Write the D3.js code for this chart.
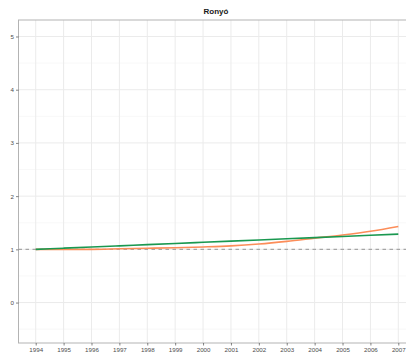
<!DOCTYPE html>
<html><head><meta charset="utf-8">
<script src="https://cdn.jsdelivr.net/npm/d3@7"></script>
<style>body{margin:0;background:#fff;overflow:hidden}svg{display:block}</style>
</head><body>
<script>
const title = "Ronyó";
const years = [1994,1995,1996,1997,1998,1999,2000,2001,2002,2003,2004,2005,2006,2007];
const seriesOrange = [1.0,1.0,1.0,1.01,1.02,1.03,1.045,1.065,1.10,1.15,1.21,1.27,1.34,1.43];
const seriesGreen = [1.0,1.022,1.044,1.066,1.088,1.11,1.132,1.154,1.176,1.198,1.22,1.242,1.264,1.286];
const yTicks = [0,1,2,3,4,5];
const yMinor = [-0.5,0.5,1.5,2.5,3.5,4.5];
const refValue = 1;

const W = 406, H = 361;
const pL = 18.5, pR = 413, pT = 20, pB = 343;
const svg = d3.select("body").append("svg").attr("width",W).attr("height",H);
const x = d3.scaleLinear().domain([1993.383, 2007.527]).range([pL, pR]);
const y = d3.scaleLinear().domain([-0.76, 5.31]).range([pB, pT]);

const g = svg.append("g");
g.selectAll(".ymin").data(yMinor).enter().append("line")
  .attr("x1",pL).attr("x2",pR).attr("y1",d=>y(d)).attr("y2",d=>y(d))
  .attr("stroke","#f4f4f4").attr("stroke-width",0.6);
g.selectAll(".ymaj").data(yTicks).enter().append("line")
  .attr("x1",pL).attr("x2",pR).attr("y1",d=>y(d)).attr("y2",d=>y(d))
  .attr("stroke","#ebebeb").attr("stroke-width",1);
g.selectAll(".xmaj").data(years).enter().append("line")
  .attr("y1",pT).attr("y2",pB).attr("x1",d=>x(d)).attr("x2",d=>x(d))
  .attr("stroke","#ebebeb").attr("stroke-width",1);

g.append("line").attr("x1",pL).attr("x2",pR).attr("y1",y(refValue)).attr("y2",y(refValue))
  .attr("stroke","#a6a6a6").attr("stroke-width",1.2).attr("stroke-dasharray","3.5,3.5");

const line = d3.line().x((d,i)=>x(years[i])).y(d=>y(d)).curve(d3.curveMonotoneX);
g.append("path").datum(seriesOrange).attr("d",line).attr("fill","none")
  .attr("stroke","#fc8d59").attr("stroke-width",1.6);
g.append("path").datum(seriesGreen).attr("d",line).attr("fill","none")
  .attr("stroke","#1a9850").attr("stroke-width",1.6);

svg.append("rect").attr("x",pL).attr("y",pT).attr("width",pR-pL).attr("height",pB-pT)
  .attr("fill","none").attr("stroke","#b3b3b3").attr("stroke-width",1);

const xAxis = svg.append("g").attr("transform",`translate(0,${pB})`)
  .call(d3.axisBottom(x).tickValues(years).tickFormat(d3.format("d")).tickSize(2.5).tickPadding(2));
const yAxis = svg.append("g").attr("transform",`translate(${pL},0)`)
  .call(d3.axisLeft(y).tickValues(yTicks).tickFormat(d3.format("d")).tickSize(2.5).tickPadding(2));
[xAxis,yAxis].forEach(a=>{
  a.select(".domain").remove();
  a.selectAll("line").attr("stroke","#333").attr("stroke-width",0.6);
  a.selectAll("text").attr("fill","#4d4d4d").style("font-family","Liberation Sans, Arial, sans-serif").style("font-size","6.2px");
});

svg.append("text").attr("x",216).attr("y",14).attr("text-anchor","middle")
  .style("font-family","Liberation Sans, Arial, sans-serif").style("font-size","8px").style("font-weight","bold")
  .attr("fill","#1a1a1a").text(title);
</script>
</body></html>
